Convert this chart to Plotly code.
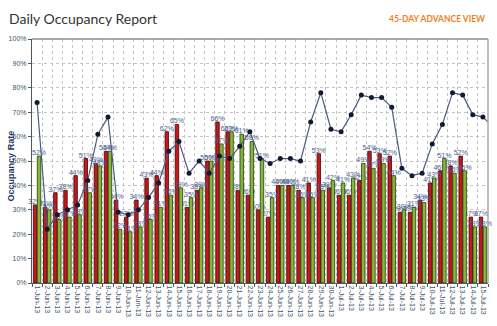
import plotly.graph_objects as go

# Day labels (45-day window)
days = [
    "1-Jun-13", "2-Jun-13", "3-Jun-13", "4-Jun-13", "5-Jun-13", "6-Jun-13", "7-Jun-13",
    "8-Jun-13", "9-Jun-13", "10-Jun-13", "11-Jun-13", "12-Jun-13", "13-Jun-13", "14-Jun-13",
    "15-Jun-13", "16-Jun-13", "17-Jun-13", "18-Jun-13", "19-Jun-13", "20-Jun-13", "21-Jun-13",
    "22-Jun-13", "23-Jun-13", "24-Jun-13", "25-Jun-13", "26-Jun-13", "27-Jun-13", "28-Jun-13",
    "29-Jun-13", "30-Jun-13", "1-Jul-13", "2-Jul-13", "3-Jul-13", "4-Jul-13", "5-Jul-13",
    "6-Jul-13", "7-Jul-13", "8-Jul-13", "9-Jul-13", "10-Jul-13", "11-Jul-13", "12-Jul-13",
    "13-Jul-13", "14-Jul-13", "15-Jul-13",
]

# Occupancy (%) per day
occ_red = [32, 31, 37, 38, 44, 51, 49, 54, 34, 27, 34, 43, 44, 62, 65, 31, 38, 50, 66, 62, 38, 36, 30,
           27, 40, 40, 38, 41, 53, 39, 36, 36, 42, 54, 53, 52, 29, 29, 34, 41, 46, 48, 52, 27, 27]
occ_green = [52, 30, 26, 27, 28, 37, 48, 54, 22, 21, 23, 26, 31, 36, 39, 35, 39, 50, 57, 62, 61, 58, 51,
             35, 40, 40, 35, 35, 38, 42, 41, 43, 49, 47, 49, 44, 30, 31, 33, 43, 51, 45, 46, 23, 23]

# Comparison line; the series runs one day past the visible window
line_days = days + ["16-Jul-13"]
occ_line = [74, 22, 28, 30, 32, 42, 61, 68, 29, 28, 30, 35, 41, 54, 58, 45, 50, 45, 52, 51, 56, 62, 51,
            49, 51, 51, 50, 66, 78, 63, 62, 69, 77, 76, 76, 72, 47, 44, 45, 57, 65, 78, 77, 69, 68, 64]

y_ticks = list(range(0, 101, 10))
y_tick_text = [f"{v}%" for v in y_ticks]

label_font = dict(family="Liberation Sans", size=7, color="#4d6290")

fig = go.Figure()

fig.add_trace(go.Bar(
    x=days, y=occ_red, name="Red",
    marker=dict(color="#c8161d", line=dict(color="#3a0808", width=0.8)),
    text=[f"{v}%" for v in occ_red], textposition="outside",
    textfont=label_font, constraintext="none", cliponaxis=False,
))
fig.add_trace(go.Bar(
    x=days, y=occ_green, name="Green",
    marker=dict(color="#84b83a", line=dict(color="#2a3a0c", width=0.8)),
    text=[f"{v}%" for v in occ_green], textposition="outside",
    textfont=label_font, constraintext="none", cliponaxis=False,
))
fig.add_trace(go.Scatter(
    x=line_days, y=occ_line, mode="lines+markers", name="Line",
    line=dict(color="#4b5b80", width=1.2),
    marker=dict(color="#121a33", size=5),
))

W, H = 497, 326
L, R, T, B = 31, 9, 39, 36
pw, ph = W - L - R, H - T - B


def px_x(px):
    return (px - L) / pw


def px_y(py):
    return (H - B - py) / ph


fig.update_layout(
    width=W, height=H,
    margin=dict(l=L, r=R, t=T, b=B),
    paper_bgcolor="white", plot_bgcolor="white",
    showlegend=False,
    barmode="group", bargap=0.22, bargroupgap=0.12,
    annotations=[
        dict(text="Daily Occupancy Report", xref="paper", yref="paper",
             x=px_x(6), y=px_y(18), xanchor="left", yanchor="middle", showarrow=False,
             font=dict(family="Lato", size=14, color="#333333")),
        dict(text="<b>45-DAY ADVANCE VIEW</b>", xref="paper", yref="paper",
             x=px_x(487), y=px_y(18), xanchor="right", yanchor="middle", showarrow=False,
             font=dict(family="Lato", size=8.5, color="#f0801e")),
        dict(text="<b>Occupancy Rate</b>", xref="paper", yref="paper",
             x=px_x(10), y=px_y(170), xanchor="center", yanchor="middle", showarrow=False,
             textangle=-90, font=dict(family="Liberation Sans", size=9, color="#1f3864")),
    ],
)

fig.update_xaxes(
    type="category", categoryorder="array", categoryarray=line_days,
    range=[-0.5, len(days) - 0.5],
    tickson="boundaries", ticks="outside", ticklen=3, tickcolor="#555555",
    tickangle=90, tickfont=dict(family="Liberation Sans", size=7, color="#44546a"),
    showgrid=True, gridcolor="#c4c4c4", griddash="dot", gridwidth=1,
    showline=True, linecolor="#555555", linewidth=1.2, mirror=False,
)
fig.update_yaxes(
    range=[0, 100], tickvals=y_ticks, ticktext=y_tick_text,
    ticks="outside", ticklen=3, tickcolor="#555555",
    tickfont=dict(family="Liberation Sans", size=7, color="#44546a"),
    showgrid=True, gridcolor="#c4c4c4", griddash="dot", gridwidth=1,
    showline=True, linecolor="#555555", linewidth=1.2, mirror=False,
    zeroline=False,
)

# Frame on top and right of the plotting area
fig.add_shape(type="line", xref="paper", yref="paper", x0=0, x1=1, y0=1, y1=1,
              line=dict(color="#8c8c8c", width=1.5))
fig.add_shape(type="line", xref="paper", yref="paper", x0=1, x1=1, y0=0, y1=1,
              line=dict(color="#a8a8a8", width=1.5))

fig.write_html("out.html")
